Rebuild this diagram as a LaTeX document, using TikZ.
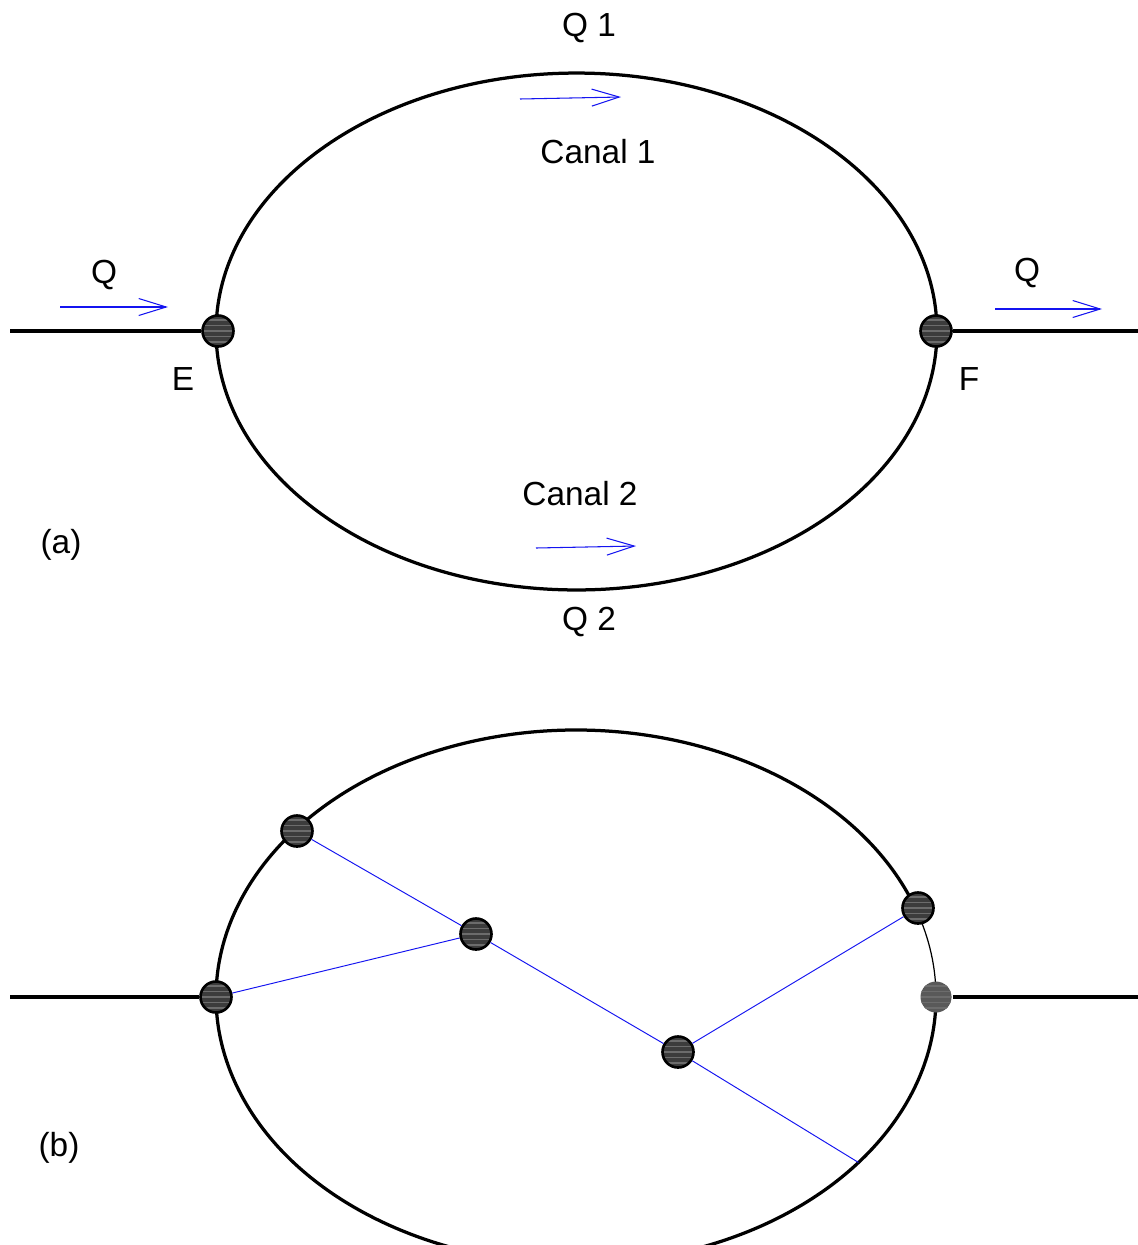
\documentclass[tikz,border=0pt]{standalone}
\usepackage{fontspec}
\setmainfont{Liberation Sans}
\usetikzlibrary{arrows.meta,positioning,calc}
\definecolor{ink}{RGB}{0,0,0}
\definecolor{flowblue}{RGB}{20,20,240}
\definecolor{ball}{RGB}{60,60,60}
\tikzset{
  wall/.style={draw=ink,line width=1.85pt},
  pipe/.style={draw=ink,line width=1.85pt},
  link/.style={draw=flowblue,line width=0.55pt},
  flow/.style={flowblue,line width=0.6pt,-{Straight Barb[length=5.5mm,width=3.4mm,line width=0.6pt]}},
  joint/.style={circle,draw=ink,line width=1.5pt,fill=ball,minimum size=6.2mm,inner sep=0pt,
    path picture={\foreach \k in {-2,...,2}
      \draw[gray!85!black,line width=0.6pt]
        ([yshift=\k*1.1mm]path picture bounding box.west) -- ([yshift=\k*1.1mm]path picture bounding box.east);}},
  softjoint/.style={joint,draw=none,fill=ball!85!white},
  lbl/.style={font=\fontsize{19}{22}\selectfont,inner sep=0pt,yshift=-0.06cm},
}

\begin{document}
\begin{tikzpicture}[x=0.02cm,y=-0.02cm]
\useasboundingbox (0,0) rectangle (1138,1245);
\clip (0,0) rectangle (1138,1245);

% ---- (a) two canals in parallel
\draw[wall] (576.5,331.5) ellipse [x radius=7.21cm,y radius=5.17cm];
\node[joint] (E) at (218,331) {};
\node[joint] (F) at (936,331) {};
\coordinate (inA) at (10,331);
\coordinate (outA) at (1138,331);
\draw[pipe] (inA) -- (E);
\draw[pipe] (F) -- (outA);

\node[lbl] (labE) at (183,376) {E};
\node[lbl] (labF) at (969,376) {F};
\node[lbl] (Qin) at (104,272) {Q};
\node[lbl] (Qout) at (1027,270) {Q};
\node[lbl] (Q1) at (589,25) {Q 1};
\node[lbl] (canal1) at (598,149) {Canal 1};
\node[lbl] (canal2) at (580,491) {Canal 2};
\node[lbl] (Q2) at (589,619) {Q 2};
\node[lbl] (capA) at (61,542) {(a)};

% flow arrows
\coordinate (qa0) at (60,307);   \coordinate (qa1) at (168,307);
\coordinate (qb0) at (995,309);  \coordinate (qb1) at (1102,309);
\coordinate (c1a) at (520,99);   \coordinate (c1b) at (621,97);
\coordinate (c2a) at (536,548);  \coordinate (c2b) at (636,546);
\draw[flow] (qa0) -- (qa1);
\draw[flow] (qb0) -- (qb1);
\draw[flow] (c1a) -- (c1b);
\draw[flow] (c2a) -- (c2b);

% ---- (b) network inside the ellipse
\draw[wall] (916.4,910.1) arc[start angle=19,end angle=360,x radius=7.2cm,y radius=5.34cm];
\draw[ink,line width=0.7pt] (936,997) arc[start angle=0,end angle=19,x radius=7.2cm,y radius=5.34cm];

\coordinate (inB) at (10,997);
\coordinate (outB) at (1138,997);
\coordinate (rim) at ($(576,997)+(-38.3:7.2cm and 5.34cm)$);

\node[joint] (b1) at (297,831) {};
\node[joint] (b2) at (476,934) {};
\node[joint] (b3) at (216,997) {};
\node[joint] (b4) at (678,1052) {};
\node[joint] (b5) at (918,908) {};
\node[softjoint] (b6) at (936,997) {};

\draw[pipe] (inB) -- (b3);
\draw[pipe] (b6) -- (outB);
\draw[link] (b1) -- (b2);
\draw[link] (b3) -- (b2);
\draw[link] (b2) -- (b4);
\draw[link] (b4) -- (b5);
\draw[link] (b4) -- (rim);

\node[lbl] (capB) at (59,1145) {(b)};
\end{tikzpicture}
\end{document}
